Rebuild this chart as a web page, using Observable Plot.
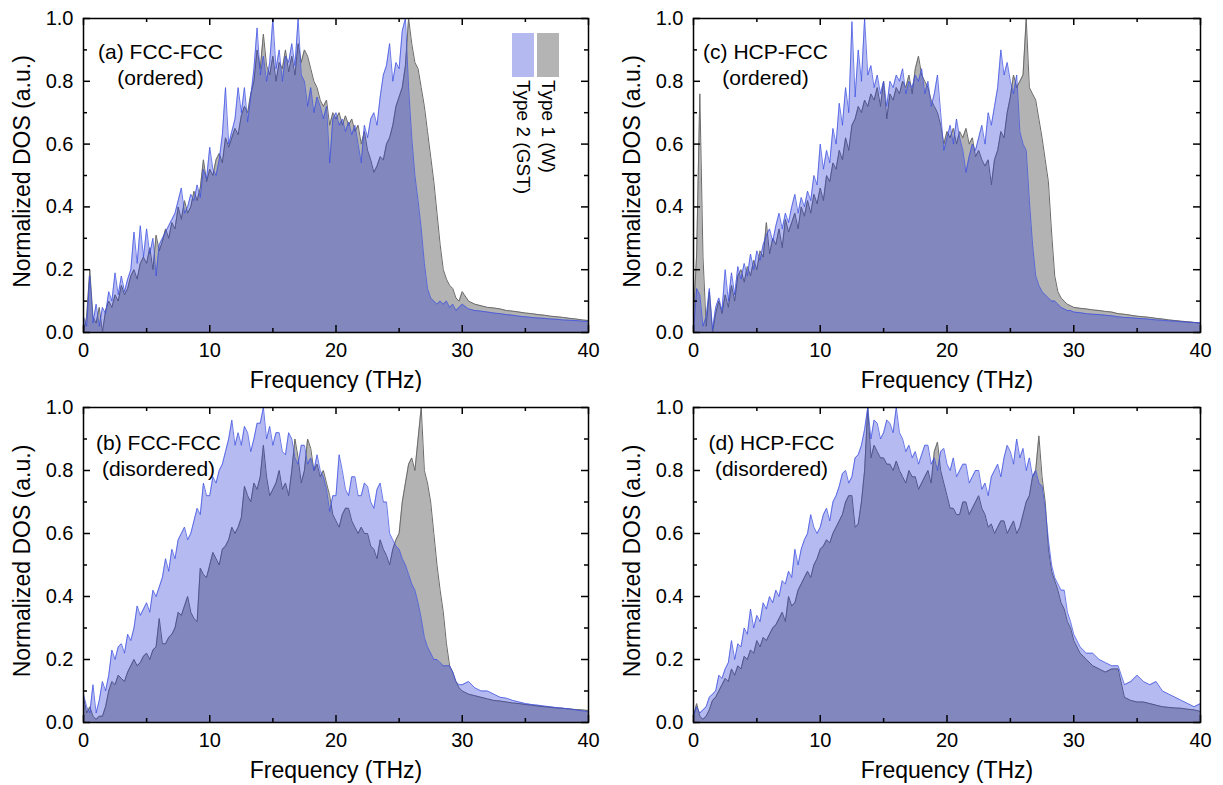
<!DOCTYPE html>
<html><head><meta charset="utf-8">
<script src="https://cdn.jsdelivr.net/npm/d3@7"></script>
<script src="https://cdn.jsdelivr.net/npm/@observablehq/plot@0.6"></script>
<style>
html,body{margin:0;padding:0;background:#fff;}
#chart{position:relative;width:1223px;height:785px;font-family:"Liberation Sans",Arial,sans-serif;overflow:hidden;}
.panel{position:absolute;}
.sw{position:absolute;}
.lt{position:absolute;transform:rotate(90deg);transform-origin:0 0;font-size:19px;line-height:23px;white-space:nowrap;color:#000;}
</style></head><body><div id="chart"></div><script>
// Frequency grid (THz)
const freq = [0,0.25,0.5,0.75,1,1.25,1.5,1.75,2,2.25,2.5,2.75,3,3.25,3.5,3.75,4,4.25,4.5,4.75,5,5.25,5.5,5.75,6,6.25,6.5,6.75,7,7.25,7.5,7.75,8,8.25,8.5,8.75,9,9.25,9.5,9.75,10,10.25,10.5,10.75,11,11.25,11.5,11.75,12,12.25,12.5,12.75,13,13.25,13.5,13.75,14,14.25,14.5,14.75,15,15.25,15.5,15.75,16,16.25,16.5,16.75,17,17.25,17.5,17.75,18,18.25,18.5,18.75,19,19.25,19.5,19.75,20,20.25,20.5,20.75,21,21.25,21.5,21.75,22,22.25,22.5,22.75,23,23.25,23.5,23.75,24,24.25,24.5,24.75,25,25.25,25.5,25.75,26,26.25,26.5,26.75,27,27.25,27.5,27.75,28,28.25,28.5,28.75,29,29.25,29.5,29.75,30,30.5,31,31.5,32,32.5,33,33.5,34,34.5,35,35.5,36,36.5,37,37.5,38,38.5,39,39.5,40];

// (a) FCC-FCC ordered
const aType1 = [0.00,0.05,0.20,0.05,0.03,0.08,0.00,0.07, 0.10,0.08,0.12,0.10,0.15,0.12,0.14,0.18, 0.20,0.17,0.22,0.24,0.22,0.27,0.20,0.31, 0.26,0.29,0.33,0.30,0.35,0.33,0.40,0.36, 0.42,0.38,0.40,0.45,0.42,0.46,0.55,0.48, 0.52,0.50,0.55,0.57,0.54,0.62,0.59,0.62, 0.65,0.63,0.69,0.72,0.70,0.76,0.80,0.90, 0.84,0.95,0.85,0.82,0.88,0.80,0.86,0.84, 0.90,0.83,0.88,0.82,0.92,0.86,0.90,0.88, 0.84,0.80,0.78,0.74,0.72,0.74,0.66,0.70, 0.68,0.70,0.66,0.69,0.66,0.68,0.64,0.66, 0.60,0.64,0.58,0.55,0.51,0.53,0.56,0.55, 0.60,0.62,0.66,0.72,0.75,0.78,0.85,1.00, 0.92,0.86,0.84,0.78,0.72,0.64,0.56,0.48, 0.38,0.28,0.20,0.17,0.15,0.14,0.11,0.10, 0.13, 0.10,0.09,0.085,0.08,0.078,0.075,0.07,0.068,0.065,0.062,0.06,0.057,0.055,0.052,0.05,0.048,0.045,0.043,0.04,0.038];
const aType2 = [0.05,0.02,0.18,0.03,0.09,0.02,0.08,0.06, 0.13,0.10,0.19,0.12,0.18,0.13,0.17,0.20, 0.32,0.22,0.34,0.24,0.33,0.25,0.30,0.18, 0.28,0.30,0.32,0.34,0.36,0.38,0.42,0.46, 0.38,0.40,0.44,0.42,0.47,0.43,0.52,0.49, 0.59,0.52,0.50,0.55,0.63,0.78,0.60,0.64, 0.68,0.78,0.70,0.78,0.67,0.75,0.84,0.97, 0.82,0.88,0.80,0.86,1.00,0.84,0.90,0.80, 0.88,0.86,0.92,0.85,1.00,0.82,0.80,0.72, 0.78,0.70,0.75,0.72,0.68,0.72,0.54,0.68, 0.70,0.66,0.68,0.64,0.67,0.63,0.66,0.60, 0.54,0.66,0.62,0.68,0.70,0.66,0.75,0.82, 0.85,0.92,0.80,0.86,0.84,0.96,1.00,0.78, 0.62,0.50,0.42,0.33,0.22,0.14,0.11,0.10, 0.09,0.10,0.09,0.10,0.08,0.09,0.07,0.08, 0.09, 0.075,0.07,0.068,0.065,0.062,0.06,0.057,0.055,0.052,0.05,0.048,0.046,0.045,0.043,0.042,0.04,0.039,0.038,0.036,0.035];

// (b) FCC-FCC disordered
const bType1 = [0.08,0.03,0.05,0.02,0.01,0.02,0.02,0.05, 0.10,0.13,0.12,0.15,0.14,0.13,0.16,0.18, 0.20,0.18,0.19,0.21,0.22,0.20,0.23,0.24, 0.33,0.25,0.25,0.27,0.28,0.30,0.35,0.34, 0.37,0.40,0.35,0.33,0.32,0.49,0.47,0.46, 0.50,0.54,0.52,0.50,0.55,0.56,0.58,0.62, 0.60,0.62,0.65,0.75,0.72,0.70,0.76,0.74, 0.78,0.88,0.78,0.72,0.74,0.76,0.80,0.74, 0.76,0.72,0.80,0.90,0.84,0.76,0.80,0.90, 0.87,0.80,0.82,0.78,0.80,0.76,0.72,0.66, 0.64,0.62,0.66,0.68,0.68,0.64,0.62,0.60, 0.62,0.60,0.60,0.56,0.55,0.52,0.58,0.55, 0.53,0.50,0.55,0.58,0.60,0.70,0.76,0.82, 0.84,0.80,0.90,1.00,0.80,0.76,0.70,0.60, 0.50,0.42,0.35,0.25,0.18,0.16,0.13,0.11, 0.10, 0.09,0.085,0.08,0.075,0.07,0.068,0.065,0.062,0.06,0.057,0.055,0.052,0.05,0.048,0.046,0.045,0.043,0.041,0.04,0.038];
const bType2 = [0.09,0.05,0.03,0.12,0.03,0.07,0.13,0.10, 0.15,0.23,0.20,0.24,0.25,0.22,0.28,0.26, 0.30,0.37,0.34,0.36,0.38,0.35,0.42,0.40, 0.43,0.46,0.52,0.48,0.55,0.52,0.58,0.60, 0.62,0.58,0.60,0.64,0.68,0.66,0.76,0.72, 0.72,0.78,0.76,0.80,0.82,0.86,0.90,0.96, 0.88,0.92,0.88,0.94,0.92,0.86,0.90,0.95, 0.95,1.00,0.90,0.94,0.88,0.92,0.92,0.86, 0.85,0.92,0.90,0.84,0.82,0.88,0.88,0.82, 0.84,0.80,0.85,0.80,0.78,0.74,0.67,0.72, 0.72,0.85,0.80,0.74,0.72,0.78,0.78,0.72, 0.72,0.76,0.75,0.70,0.68,0.74,0.76,0.70, 0.70,0.60,0.58,0.56,0.55,0.52,0.50,0.47, 0.44,0.42,0.38,0.33,0.27,0.24,0.22,0.20, 0.20,0.19,0.18,0.18,0.18,0.16,0.13,0.12, 0.12, 0.13,0.11,0.10,0.10,0.09,0.08,0.077,0.07,0.065,0.06,0.057,0.055,0.052,0.05,0.047,0.045,0.043,0.04,0.037,0.034];

// (c) HCP-FCC ordered
const cType1 = [0.05,0.25,0.76,0.24,0.02,0.13,0.00,0.06, 0.10,0.06,0.12,0.08,0.15,0.10,0.18,0.20, 0.16,0.21,0.18,0.23,0.20,0.26,0.24,0.35, 0.25,0.30,0.28,0.33,0.27,0.36,0.32,0.35, 0.38,0.33,0.40,0.37,0.42,0.38,0.44,0.41, 0.46,0.42,0.50,0.48,0.54,0.52,0.58,0.55, 0.62,0.58,0.66,0.68,0.72,0.70,0.74,0.72, 0.76,0.74,0.78,0.72,0.80,0.68,0.76,0.74, 0.78,0.76,0.80,0.78,0.82,0.76,0.84,0.88, 0.82,0.80,0.78,0.74,0.72,0.70,0.66,0.60, 0.64,0.62,0.65,0.60,0.64,0.62,0.65,0.60, 0.62,0.56,0.58,0.55,0.53,0.55,0.47,0.55, 0.58,0.64,0.62,0.70,0.75,0.82,0.78,0.80, 0.82,1.00,0.78,0.76,0.74,0.68,0.62,0.55, 0.48,0.32,0.18,0.13,0.11,0.10,0.09,0.085, 0.08, 0.077,0.075,0.072,0.07,0.067,0.065,0.06,0.058,0.055,0.052,0.05,0.048,0.045,0.043,0.04,0.038,0.036,0.034,0.032,0.03];
const cType2 = [0.00,0.14,0.12,0.02,0.05,0.14,0.01,0.08, 0.11,0.07,0.20,0.10,0.19,0.12,0.21,0.17, 0.22,0.18,0.25,0.20,0.26,0.23,0.28,0.31, 0.33,0.29,0.34,0.38,0.33,0.38,0.35,0.40, 0.44,0.38,0.43,0.40,0.45,0.42,0.50,0.47, 0.60,0.52,0.58,0.54,0.65,0.60,0.73,0.66, 0.78,0.70,0.99,0.75,0.90,0.80,1.00,0.82, 0.85,0.78,0.82,0.76,0.80,0.72,0.80,0.78, 0.82,0.80,0.84,0.76,0.80,0.78,0.82,0.80, 0.84,0.76,0.80,0.72,0.76,0.82,0.70,0.58, 0.62,0.66,0.60,0.68,0.62,0.58,0.51,0.56, 0.60,0.58,0.62,0.66,0.60,0.70,0.66,0.72, 0.78,0.90,0.82,0.86,0.80,0.76,0.82,0.64, 0.60,0.58,0.42,0.28,0.18,0.15,0.13,0.12, 0.11,0.10,0.10,0.09,0.08,0.075,0.07,0.07, 0.065, 0.063,0.06,0.058,0.057,0.055,0.053,0.05,0.048,0.047,0.045,0.044,0.042,0.04,0.039,0.037,0.036,0.034,0.033,0.032,0.03];

// (d) HCP-FCC disordered
const dType1 = [0.02,0.06,0.02,0.01,0.02,0.04,0.07,0.08, 0.10,0.12,0.14,0.13,0.17,0.15,0.18,0.17, 0.21,0.20,0.23,0.22,0.26,0.24,0.27,0.26, 0.28,0.30,0.31,0.33,0.35,0.32,0.40,0.37, 0.38,0.42,0.44,0.46,0.48,0.46,0.50,0.52, 0.55,0.56,0.58,0.57,0.60,0.62,0.64,0.66, 0.70,0.72,0.72,0.62,0.63,0.70,0.80,1.00, 0.84,0.88,0.86,0.84,0.84,0.82,0.82,0.80, 0.83,0.80,0.78,0.76,0.80,0.78,0.78,0.74, 0.76,0.78,0.80,0.76,0.86,0.89,0.80,0.76, 0.72,0.68,0.68,0.66,0.66,0.70,0.70,0.66, 0.68,0.70,0.72,0.68,0.66,0.62,0.63,0.60, 0.62,0.64,0.64,0.60,0.62,0.64,0.60,0.62, 0.66,0.70,0.72,0.78,0.80,0.91,0.78,0.70, 0.55,0.48,0.45,0.42,0.38,0.36,0.32,0.30, 0.26, 0.22,0.20,0.18,0.17,0.16,0.17,0.17,0.08,0.07,0.065,0.065,0.06,0.055,0.05,0.048,0.046,0.045,0.042,0.04,0.035];
const dType2 = [0.02,0.05,0.03,0.04,0.05,0.08,0.09,0.10, 0.15,0.14,0.17,0.19,0.26,0.20,0.25,0.24, 0.30,0.28,0.36,0.30,0.34,0.32,0.38,0.36, 0.40,0.38,0.42,0.40,0.45,0.44,0.48,0.46, 0.55,0.50,0.55,0.58,0.60,0.66,0.62,0.60, 0.62,0.66,0.68,0.64,0.70,0.72,0.75,0.79, 0.80,0.76,0.78,0.84,0.85,0.88,0.93,1.00, 0.90,0.96,0.95,0.90,0.92,0.96,0.95,0.92, 1.00,0.92,0.90,0.86,0.88,0.84,0.86,0.82, 0.85,0.88,0.88,0.82,0.84,0.80,0.86,0.87, 0.82,0.80,0.84,0.78,0.80,0.82,0.82,0.76, 0.78,0.80,0.80,0.74,0.76,0.72,0.78,0.80, 0.82,0.78,0.84,0.88,0.86,0.82,0.90,0.84, 0.87,0.80,0.84,0.78,0.80,0.76,0.75,0.68, 0.58,0.50,0.46,0.44,0.42,0.42,0.35,0.32, 0.28, 0.24,0.22,0.22,0.20,0.19,0.18,0.18,0.12,0.13,0.15,0.13,0.12,0.13,0.10,0.09,0.08,0.07,0.06,0.05,0.06];

// Axis ticks & labels
const xMajor = [0, 10, 20, 30, 40];
const xMinor = [5, 15, 25, 35];
const yMajor = [0, 0.2, 0.4, 0.6, 0.8, 1.0];
const yMinor = [0.1, 0.3, 0.5, 0.7, 0.9];
const xLabel = "Frequency (THz)";
const yLabel = "Normalized DOS (a.u.)";
const seriesNames = ["Type 1 (W)", "Type 2 (GST)"];
const panelTitles = ["(a) FCC-FCC\n(ordered)", "(b) FCC-FCC\n(disordered)", "(c) HCP-FCC\n(ordered)", "(d) HCP-FCC\n(disordered)"];

const grayFill = "#b3b3b3", grayLine = "#6a6a6a";
const blueFill = "rgb(30,45,210)", blueFillOpacity = 0.33, blueLine = "rgb(60,80,225)";

const panels = [
  {title: panelTitles[0], t1: aType1, t2: aType2, left: 0,   top: 0,   width: 610, height: 392, mt: 18, mb: 60, mr: 22, tdx: 77, tdy: 22},
  {title: panelTitles[1], t1: bType1, t2: bType2, left: 0,   top: 392, width: 610, height: 393, mt: 15, mb: 63, mr: 22, tdx: 75, tdy: 24},
  {title: panelTitles[2], t1: cType1, t2: cType2, left: 610, top: 0,   width: 613, height: 392, mt: 18, mb: 60, mr: 23, tdx: 72, tdy: 22},
  {title: panelTitles[3], t1: dType1, t2: dType2, left: 610, top: 392, width: 613, height: 393, mt: 15, mb: 63, mr: 23, tdx: 78, tdy: 24}
];

const chart = document.getElementById("chart");
const ML = 83, MAJ = 7, MIN = 4;

for (const p of panels) {
  if (p.t1.length !== freq.length || p.t2.length !== freq.length) throw new Error("length mismatch " + p.title + " " + p.t1.length + " " + p.t2.length);
  const rows1 = freq.map((f, i) => ({f, v: p.t1[i]}));
  const rows2 = freq.map((f, i) => ({f, v: p.t2[i]}));
  const pw = p.width - ML - p.mr, ph = p.height - p.mt - p.mb;
  const svg = Plot.plot({
    width: p.width, height: p.height,
    marginLeft: ML, marginRight: p.mr, marginTop: p.mt, marginBottom: p.mb,
    x: {domain: [0, 40]},
    y: {domain: [0, 1]},
    style: {fontFamily: "'Liberation Sans', Arial, sans-serif", background: "white", color: "black", overflow: "visible"},
    marks: [
      Plot.areaY(rows1, {x: "f", y: "v", fill: grayFill}),
      Plot.lineY(rows1, {x: "f", y: "v", stroke: grayLine, strokeWidth: 1}),
      Plot.areaY(rows2, {x: "f", y: "v", fill: blueFill, fillOpacity: blueFillOpacity}),
      Plot.lineY(rows2, {x: "f", y: "v", stroke: blueLine, strokeOpacity: 0.75, strokeWidth: 1}),
      // inward ticks on all four sides
      Plot.tickX(xMajor, {x: d => d, insetTop: ph - MAJ, stroke: "black", strokeWidth: 1.5}),
      Plot.tickX(xMajor, {x: d => d, insetBottom: ph - MAJ, stroke: "black", strokeWidth: 1.5}),
      Plot.tickX(xMinor, {x: d => d, insetTop: ph - MIN, stroke: "black", strokeWidth: 1.5}),
      Plot.tickX(xMinor, {x: d => d, insetBottom: ph - MIN, stroke: "black", strokeWidth: 1.5}),
      Plot.tickY(yMajor, {y: d => d, insetRight: pw - MAJ, stroke: "black", strokeWidth: 1.5}),
      Plot.tickY(yMajor, {y: d => d, insetLeft: pw - MAJ, stroke: "black", strokeWidth: 1.5}),
      Plot.tickY(yMinor, {y: d => d, insetRight: pw - MIN, stroke: "black", strokeWidth: 1.5}),
      Plot.tickY(yMinor, {y: d => d, insetLeft: pw - MIN, stroke: "black", strokeWidth: 1.5}),
      Plot.axisX({ticks: xMajor, tickSize: 0, tickPadding: 10, fontSize: 20, label: null}),
      Plot.axisY({ticks: yMajor, tickSize: 0, tickPadding: 10, fontSize: 20, tickFormat: d => d.toFixed(1), label: null}),
      Plot.text([xLabel], {text: d => d, frameAnchor: "bottom", dy: 48, textAnchor: "middle", lineAnchor: "middle", fontSize: 23, fill: "black"}),
      Plot.text([yLabel], {text: d => d, frameAnchor: "left", dx: -61, dy: -4, rotate: -90, textAnchor: "middle", lineAnchor: "middle", fontSize: 23, fill: "black"}),
      Plot.text([p.title], {text: d => d, frameAnchor: "top-left", dx: p.tdx, dy: p.tdy, textAnchor: "middle", lineAnchor: "top", lineHeight: 1.24, fontSize: 21, fill: "black"}),
      Plot.frame({stroke: "black", strokeWidth: 1.5})
    ]
  });
  const div = document.createElement("div");
  div.className = "panel";
  div.style.left = p.left + "px";
  div.style.top = p.top + "px";
  div.appendChild(svg);
  chart.appendChild(div);
}

// Legend (inside panel a), vertical Origin-style
const legendItems = [
  {name: seriesNames[1], color: "#b4baf0", x: 512},
  {name: seriesNames[0], color: "#b4b4b4", x: 537}
];
for (const it of legendItems) {
  const sw = document.createElement("div");
  sw.className = "sw";
  sw.style.cssText = `left:${it.x}px;top:33px;width:22px;height:44px;background:${it.color};`;
  chart.appendChild(sw);
  const t = document.createElement("div");
  t.className = "lt";
  t.textContent = it.name;
  t.style.left = (it.x + 23) + "px";
  t.style.top = "80px";
  chart.appendChild(t);
}
</script></body></html>
